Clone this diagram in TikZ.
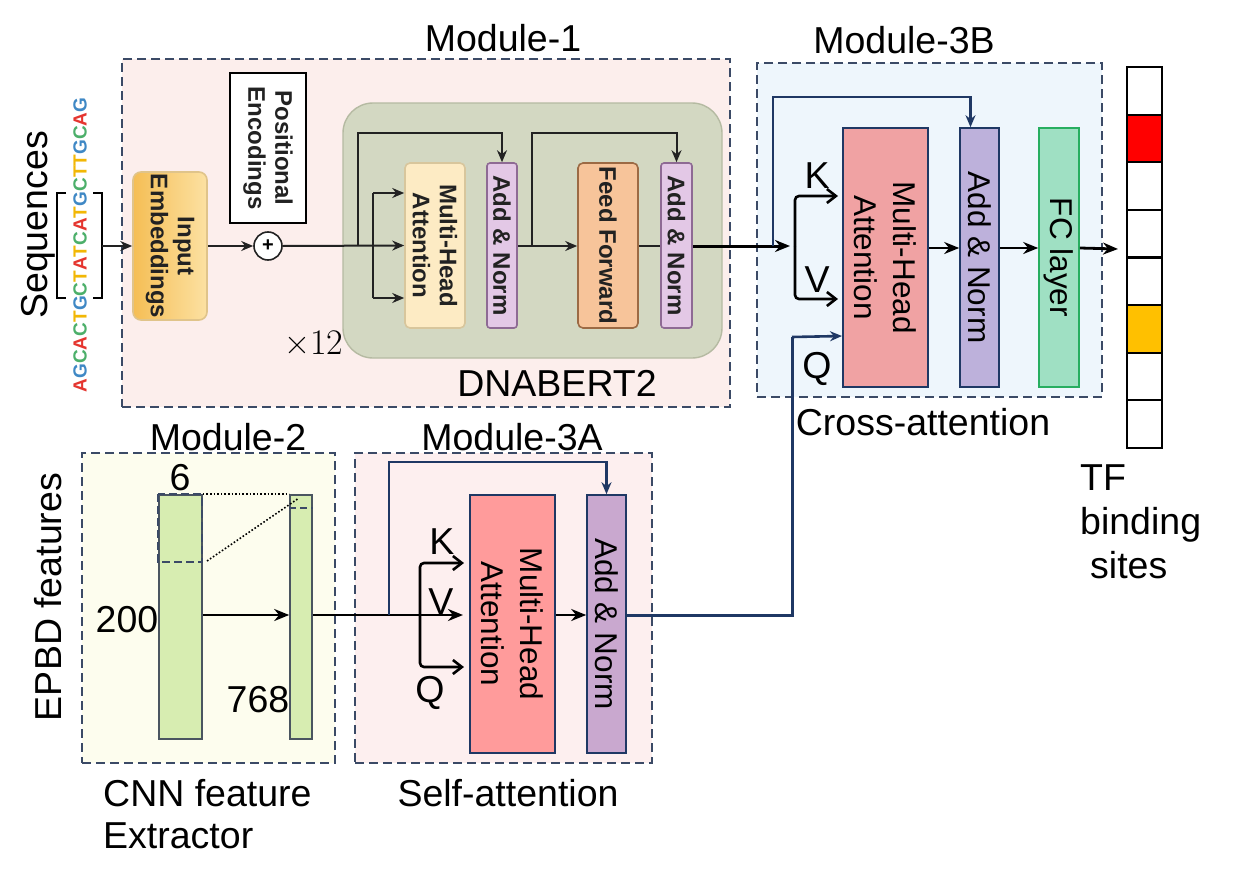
\documentclass[tikz,border=0pt]{standalone}
\usepackage{fontspec}
\setmainfont{Liberation Sans}
\newfontfamily\lmserif{Latin Modern Roman}
\usetikzlibrary{arrows.meta,shapes.geometric}
\definecolor{modline}{HTML}{3B4A66}
\definecolor{navy}{HTML}{1F3864}
\definecolor{mone}{HTML}{FCEEEC}
\definecolor{mthreeb}{HTML}{EEF6FC}
\definecolor{mtwo}{HTML}{FDFDEE}
\definecolor{mthreea}{HTML}{FDEFEF}
\definecolor{bertfill}{HTML}{D3D8C2}
\definecolor{bertline}{HTML}{B5BAA2}
\definecolor{mhaone}{HTML}{FDEBC4}
\definecolor{mhaoneline}{HTML}{D8C69C}
\definecolor{anone}{HTML}{E3C8E6}
\definecolor{anoneline}{HTML}{8E6A94}
\definecolor{fffill}{HTML}{F7C49A}
\definecolor{ffline}{HTML}{9C6A44}
\definecolor{embdark}{HTML}{F5BE55}
\definecolor{emblight}{HTML}{FCE1A2}
\definecolor{embline}{HTML}{E0C48A}
\definecolor{mhab}{HTML}{F0A2A3}
\definecolor{mhaa}{HTML}{FF9B9B}
\definecolor{anb}{HTML}{BDB1DB}
\definecolor{ana}{HTML}{C9A8CF}
\definecolor{fcfill}{HTML}{9FE0C3}
\definecolor{fcline}{HTML}{27AE60}
\definecolor{colfill}{HTML}{D7EDB1}
\definecolor{colline}{HTML}{4A5560}
\definecolor{tfred}{HTML}{FF0000}
\definecolor{tforange}{HTML}{FFC000}
\definecolor{dnaA}{HTML}{E5352F}
\definecolor{dnaC}{HTML}{4CAF6A}
\definecolor{dnaG}{HTML}{3F88C5}
\definecolor{dnaT}{HTML}{F2B705}
\definecolor{inktext}{HTML}{222222}
\newcommand\nucA{\textcolor{dnaA}{A}}
\newcommand\nucC{\textcolor{dnaC}{C}}
\newcommand\nucG{\textcolor{dnaG}{G}}
\newcommand\nucT{\textcolor{dnaT}{T}}
\begin{document}
\begin{tikzpicture}[x=1pt,y=-1pt,
  modbox/.style={draw=modline, line width=1.9pt, dash pattern=on 9pt off 5pt, inner sep=0pt},
  blk/.style={draw, line width=1.6pt, inner sep=0pt},
  lab/.style={font=\fontsize{37.5}{44}\selectfont, inner sep=0pt},
  btxt/.style={font=\bfseries\fontsize{24}{27}\selectfont, text=inktext, rotate=-90, align=center, inner sep=0pt},
  rtxt/.style={font=\fontsize{31.5}{39}\selectfont, rotate=-90, align=center, inner sep=0pt},
  arrone/.style={-{Stealth[length=12pt,width=10pt]}, line width=2pt, draw=inktext},
  lineone/.style={line width=2pt, draw=inktext},
  arrmain/.style={-{Stealth[length=15pt,width=12pt]}, line width=3pt},
  barb/.style={-{Straight Barb[length=9pt,width=14pt]}, line width=2.6pt},
  navyarr/.style={-{Stealth[length=12pt,width=10pt]}, line width=2.6pt, draw=navy},
  navyline/.style={line width=3pt, draw=navy},
  tfcell/.style={draw, line width=2.2pt, minimum width=35pt, minimum height=47.6pt, inner sep=0pt},
]
\useasboundingbox (0,0) rectangle (1259,878);
\fill[white] (0,0) rectangle (1259,878);

% ---------------- Module boxes ----------------
\node[modbox, fill=mone, minimum width=608pt, minimum height=348pt] (m1) at (426,233) {};
\node[modbox, fill=mthreeb, minimum width=345pt, minimum height=334pt] (m3b) at (929.5,230) {};
\node[modbox, fill=mtwo, minimum width=253pt, minimum height=310pt] (m2) at (208.5,608) {};
\node[modbox, fill=mthreea, minimum width=297pt, minimum height=310pt] (m3a) at (503.5,608) {};

\node[lab] (m1t) at (503,38) {Module-1};
\node[lab] (m3bt) at (904,40) {Module-3B};
\node[lab] (m2t) at (228,437) {Module-2};
\node[lab] (m3at) at (512,437) {Module-3A};

% ---------------- Sequences ----------------
\node[lab, rotate=90] (seqt) at (38,225) {Sequences};
\node[font=\bfseries\fontsize{19}{19}\selectfont, rotate=90, inner sep=0pt] (dna) at (80,245)
  {\nucA\nucG\nucC\nucA\nucC\nucT\nucG\nucC\nucT\nucA\nucT\nucC\nucA\nucT\nucG\nucC\nucT\nucT\nucG\nucC\nucA\nucG};
\draw[line width=1.6pt] (66,193) -- (57,193) -- (57,298) -- (66,298);
\draw[line width=1.6pt] (93,193) -- (102,193) -- (102,298) -- (93,298);
\coordinate (brr) at (102,246);

% ---------------- Module-1 ----------------
\node[blk, draw=embline, rounded corners=8pt, left color=embdark, right color=emblight,
      minimum width=74pt, minimum height=148pt] (emb) at (170,246) {};
\node[btxt] (embt) at (emb.center) {Input\\Embeddings};
\node[blk, draw=black, fill=white, minimum width=76pt, minimum height=150pt] (pe) at (268,148) {};
\node[btxt] (pet) at (pe.center) {Positional\\Encodings};
\node[draw=inktext, line width=1.6pt, circle, fill=white, minimum size=28pt, inner sep=0pt,
      font=\bfseries\fontsize{20}{20}\selectfont] (plus) at (268,246) {+};

\node[draw=bertline, line width=1.4pt, fill=bertfill, rounded corners=30pt,
      minimum width=379pt, minimum height=255pt, inner sep=0pt] (bert) at (532.5,230.5) {};
\node[blk, draw=mhaoneline, fill=mhaone, rounded corners=5pt, minimum width=60pt, minimum height=165pt] (mhaone) at (435,245.5) {};
\node[btxt] (mhaonet) at (mhaone.center) {Multi-Head\\Attention};
\node[blk, draw=anoneline, fill=anone, rounded corners=3pt, minimum width=30pt, minimum height=165pt] (anone) at (502,245.5) {};
\node[btxt] (anonet) at (anone.center) {Add \& Norm};
\node[blk, draw=ffline, fill=fffill, rounded corners=5pt, minimum width=60pt, minimum height=165pt] (ff) at (608,245.5) {};
\node[btxt] (fft) at (ff.center) {Feed Forward};
\node[blk, draw=anoneline, fill=anone, rounded corners=3pt, minimum width=31pt, minimum height=165pt] (antwo) at (676.5,245.5) {};
\node[btxt] (antwot) at (antwo.center) {Add \& Norm};

\node[font=\lmserif\fontsize{36}{36}\selectfont, inner sep=0pt] (rep) at (314,343) {×12};
\node[lab] (bertt) at (557,383) {DNABERT2};

\draw[arrone] (brr) -- (emb.west);
\draw[arrone] (emb.east) -- (plus.west);
\draw[arrone] (plus.east) -- (mhaone.west);
\coordinate (rone) at (358,246);
\coordinate (kone) at (373,193);
\coordinate (qone) at (373,298);
\draw[lineone] (kone) -- (qone);
\draw[arrone] (kone) -- (kone -| mhaone.west);
\draw[arrone] (qone) -- (qone -| mhaone.west);
\draw[arrone] (rone) -- ++(0,-113) -| (anone.north);
\draw[arrone] (anone.east |- rone) -- (ff.west |- rone);
\coordinate (rtwo) at (532,246);
\draw[arrone] (rtwo) -- ++(0,-113) -| (antwo.north);
\draw[lineone] (ff.east |- rone) -- (antwo.west |- rone);

% ---------------- Module-3B ----------------
\node[blk, draw=navy, fill=mhab, minimum width=85pt, minimum height=259pt] (mhab) at (885.5,257.5) {};
\node[rtxt] (mhabt) at (mhab.center) {Multi-Head\\Attention};
\node[blk, draw=navy, fill=anb, minimum width=39pt, minimum height=259pt] (anb) at (979.5,257.5) {};
\node[rtxt] (anbt) at (anb.center) {Add \& Norm};
\node[blk, draw=fcline, fill=fcfill, minimum width=40pt, minimum height=259pt] (fc) at (1059,257.5) {};
\node[rtxt] (fct) at (fc.center) {FC layer};

\coordinate (inb) at (790,246);
\draw[arrmain] (antwo.east |- rone) -- (inb);
\coordinate (rb) at (773,246);
\draw[navyarr] (rb) -- ++(0,-149) -| ([xshift=-9pt]anb.north);
\coordinate (kvb) at (795,246);
\coordinate (kendb) at (838,196);
\coordinate (vendb) at (838,299);
\draw[barb, rounded corners=4pt] (kvb) |- (kendb);
\draw[barb, rounded corners=4pt] (kvb) |- (vendb);
\node[lab] (kb) at (817,176) {K};
\node[lab] (vb) at (817,280) {V};
\node[lab] (qb) at (817,369) {Q};
\coordinate (lb) at (0,248);
\draw[arrmain, line width=2.8pt] (mhab.east |- lb) -- (anb.west |- lb);
\draw[arrmain, line width=2.8pt] (anb.east |- lb) -- (fc.west |- lb);
\coordinate (outb) at (1118,249);
\draw[arrmain, line width=2.8pt] (fc.east |- lb) -- (outb);
\node[lab] (crosst) at (923,422) {Cross-attention};

% ---------------- TF column ----------------
\node[tfcell, fill=white] (tfa) at (1144.5,90.8) {};
\node[tfcell, fill=tfred] (tfb) at (1144.5,138.4) {};
\node[tfcell, fill=white] (tfc) at (1144.5,186.0) {};
\node[tfcell, fill=white] (tfd) at (1144.5,233.6) {};
\node[tfcell, fill=white] (tfe) at (1144.5,281.2) {};
\node[tfcell, fill=tforange] (tff) at (1144.5,328.8) {};
\node[tfcell, fill=white] (tfg) at (1144.5,376.4) {};
\node[tfcell, fill=white] (tfh) at (1144.5,424.0) {};
\node[lab, align=left, anchor=north west, font=\fontsize{37.5}{44}\selectfont] (tft) at (1080,464) {TF\\binding\\\hspace*{10pt}sites};

% ---------------- Module-2 ----------------
\node[blk, draw=colline, fill=colfill, line width=1.6pt, minimum width=43pt, minimum height=244pt] (cola) at (180.5,617) {};
\node[blk, draw=colline, fill=colfill, line width=1.6pt, minimum width=22pt, minimum height=244pt] (colb) at (301,617) {};
\draw[draw=modline, line width=1.7pt, dash pattern=on 8pt off 4pt] (cola.north west) rectangle (202,562);
\draw[draw=modline, line width=1.5pt, dash pattern=on 7pt off 4pt] (colb.west |- 0,508) -- (colb.east |- 0,508);
\draw[line width=1.6pt, dotted] (cola.north east) -- (colb.north west);
\draw[line width=1.6pt, dotted] (207,561) -- (299,498);
\node[lab] (six) at (180,478) {6};
\node[lab] (twoh) at (127,620) {200};
\node[lab] (sevens) at (258,700) {768};
\node[lab, rotate=90] (epbd) at (48,597) {EPBD features};
\node[lab, align=left, anchor=west, font=\fontsize{37.5}{42}\selectfont] (cnn) at (103,814) {CNN feature\\Extractor};
\coordinate (la) at (0,615);
\draw[arrmain, line width=2.6pt] (cola.east |- la) -- (colb.west |- la);

% ---------------- Module-3A ----------------
\node[blk, draw=navy, fill=mhaa, minimum width=85pt, minimum height=258pt] (mhaa) at (512.5,624) {};
\node[rtxt] (mhaat) at (mhaa.center) {Multi-Head\\Attention};
\node[blk, draw=navy, fill=ana, minimum width=39pt, minimum height=258pt] (ana) at (606.5,624) {};
\node[rtxt] (anat) at (ana.center) {Add \& Norm};
\coordinate (vaend) at (463,615);
\draw[arrmain, line width=2.8pt] (colb.east |- la) -- (vaend);
\coordinate (ra) at (389,615);
\draw[navyarr] (ra) -- ++(0,-153) -| (ana.north);
\coordinate (kqa) at (420,615);
\coordinate (kenda) at (464,563);
\coordinate (qenda) at (464,667);
\draw[barb, rounded corners=4pt] (kqa) |- (kenda);
\draw[barb, rounded corners=4pt] (kqa) |- (qenda);
\node[lab] (ka) at (442,542) {K};
\node[lab] (va) at (441,602) {V};
\node[lab] (qa) at (430,693) {Q};
\draw[arrmain, line width=2.8pt] (mhaa.east |- la) -- (ana.west |- la);
\node[lab] (selft) at (508,793) {Self-attention};

% ---------------- Q connector from 3A to 3B ----------------
\coordinate (qvb) at (792,337);
\coordinate (qendb) at (842,336);
\draw[navyline] (ana.east |- la) -| (qvb);
\draw[navyarr] (qvb) -- (qendb);
\end{tikzpicture}
\end{document}
